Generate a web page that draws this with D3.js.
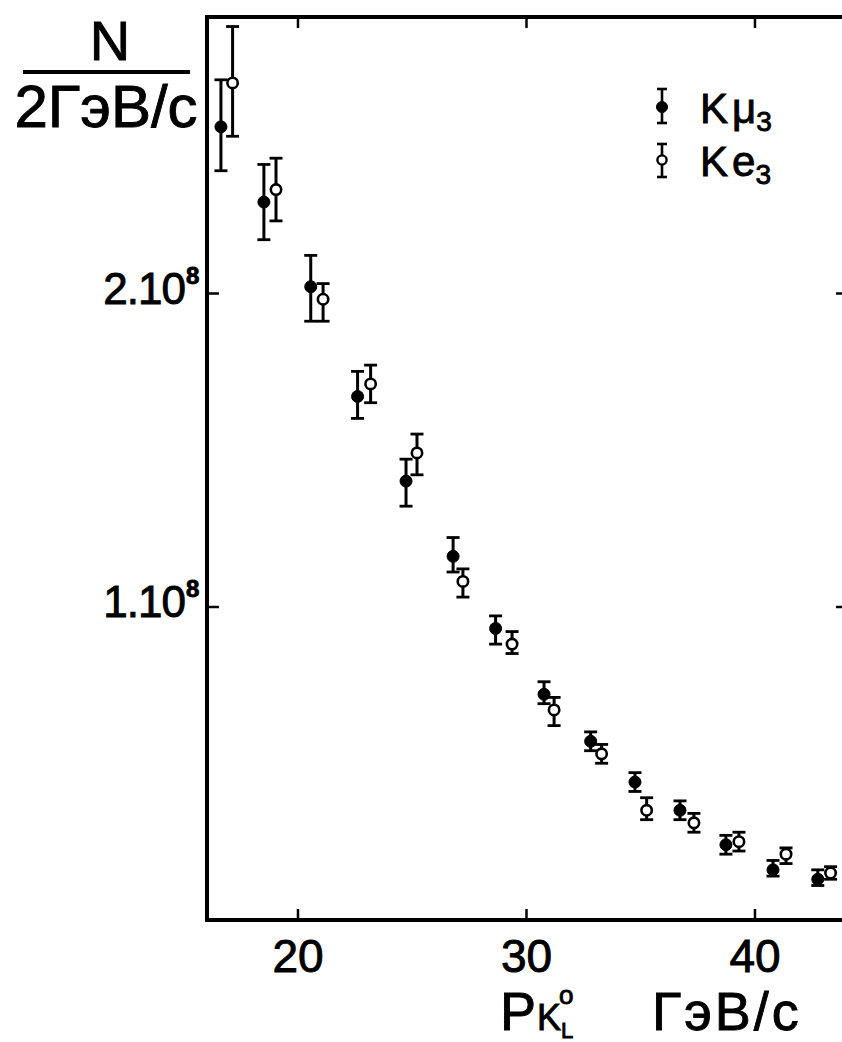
<!DOCTYPE html>
<html>
<head>
<meta charset="utf-8">
<script src="https://cdn.jsdelivr.net/npm/d3@7"></script>
<style>
  body { margin: 0; background: #fff; }
  svg { display: block; }
  text { font-family: "Liberation Sans", Arial, sans-serif; fill: #000; stroke: #000; stroke-width: 0.9px; }
</style>
</head>
<body>
<script>
// K-mu-3 (filled points): momentum (GeV/c), N per 2 GeV/c in units of 1e8, error bar ends
var kmuP  = [16.65, 18.53, 20.58, 22.63, 24.75, 26.81, 28.67, 30.79, 32.83, 34.77, 36.74, 38.75, 40.81, 42.77];
var kmuN  = [2.53, 2.29, 2.02, 1.67, 1.40, 1.16, 0.93, 0.72, 0.57, 0.44, 0.35, 0.24, 0.16, 0.13];
var kmuHi = [2.68, 2.41, 2.12, 1.75, 1.47, 1.22, 0.97, 0.76, 0.60, 0.47, 0.38, 0.27, 0.19, 0.16];
var kmuLo = [2.39, 2.17, 1.91, 1.60, 1.32, 1.11, 0.88, 0.69, 0.54, 0.41, 0.32, 0.21, 0.14, 0.11];

// K-e-3 (open points)
var keP  = [17.16, 19.06, 21.12, 23.20, 25.23, 27.24, 29.39, 31.23, 33.31, 35.28, 37.35, 39.32, 41.38, 43.33];
var keN  = [2.67, 2.33, 1.98, 1.71, 1.49, 1.08, 0.88, 0.67, 0.53, 0.35, 0.31, 0.25, 0.21, 0.15];
var keHi = [2.85, 2.43, 2.03, 1.77, 1.55, 1.12, 0.92, 0.71, 0.56, 0.39, 0.34, 0.28, 0.23, 0.17];
var keLo = [2.50, 2.23, 1.91, 1.65, 1.42, 1.03, 0.85, 0.62, 0.50, 0.32, 0.28, 0.22, 0.18, 0.13];

var xTicks = [20, 30, 40];
var yTicks = [1, 2];
var yTickLabels = ["1.10", "2.10"];

var w = 842, h = 1042;
var mLeft = 207, mRight = 848, mTop = 17, mBottom = 920;

var svg = d3.select("body").append("svg")
    .attr("width", w)
    .attr("height", h);

var x = d3.scaleLinear()
    .domain([16.04, 16.04 + (mRight - mLeft) / 22.85])
    .range([mLeft, mRight]);

var y = d3.scaleLinear()
    .domain([0, (mBottom - mTop) / 313.5])
    .range([mBottom, mTop]);

// frame
svg.append("rect")
    .attr("x", mLeft).attr("y", mTop)
    .attr("width", mRight - mLeft).attr("height", mBottom - mTop)
    .attr("fill", "none")
    .attr("stroke", "#000")
    .attr("stroke-width", 4);

// bottom axis, ticks pointing inward
var gx = svg.append("g")
    .attr("transform", "translate(0," + mBottom + ")")
    .call(d3.axisBottom(x).tickValues(xTicks).tickSize(-11).tickPadding(19));
gx.select(".domain").remove();
gx.selectAll("line").attr("stroke-width", 2.5);
gx.selectAll("text")
    .attr("font-size", 46)
    .style("font-family", "Liberation Sans, Arial, sans-serif");

// top ticks
var gt = svg.append("g")
    .attr("transform", "translate(0," + mTop + ")")
    .call(d3.axisTop(x).tickValues(xTicks).tickSize(-11).tickFormat(""));
gt.select(".domain").remove();
gt.selectAll("line").attr("stroke-width", 2.5);

// left axis
var gy = svg.append("g")
    .attr("transform", "translate(" + mLeft + ",0)")
    .call(d3.axisLeft(y).tickValues(yTicks).tickSize(-12).tickFormat(""));
gy.select(".domain").remove();
gy.selectAll("line").attr("stroke-width", 2.5);
gy.selectAll(".tick").each(function (d, i) {
    var t = d3.select(this);
    t.append("text")
        .attr("x", -22)
        .attr("y", 10)
        .attr("text-anchor", "end")
        .attr("font-size", 44)
        .attr("letter-spacing", -1)
        .text(yTickLabels[i]);
    t.append("text")
        .attr("x", -21)
        .attr("y", -10)
        .attr("text-anchor", "start")
        .attr("font-size", 24)
        .attr("font-weight", "bold")
        .text("8");
});

// right ticks
var gr = svg.append("g")
    .attr("transform", "translate(" + mRight + ",0)")
    .call(d3.axisRight(y).tickValues(yTicks).tickSize(-12).tickFormat(""));
gr.select(".domain").remove();
gr.selectAll("line").attr("stroke-width", 2.5);

// error bars + markers
function drawSeries(P, N, Lo, Hi, filled, r) {
    var data = P.map(function (p, i) { return {p: p, n: N[i], lo: Lo[i], hi: Hi[i]}; });
    var g = svg.append("g");
    var capW = 6.5;
    g.selectAll(".bar").data(data).enter().append("line")
        .attr("x1", function (d) { return x(d.p); })
        .attr("x2", function (d) { return x(d.p); })
        .attr("y1", function (d) { return y(d.lo); })
        .attr("y2", function (d) { return y(d.hi); })
        .attr("stroke", "#000").attr("stroke-width", 3);
    g.selectAll(".capHi").data(data).enter().append("line")
        .attr("x1", function (d) { return x(d.p) - capW; })
        .attr("x2", function (d) { return x(d.p) + capW; })
        .attr("y1", function (d) { return y(d.hi); })
        .attr("y2", function (d) { return y(d.hi); })
        .attr("stroke", "#000").attr("stroke-width", 2.8);
    g.selectAll(".capLo").data(data).enter().append("line")
        .attr("x1", function (d) { return x(d.p) - capW; })
        .attr("x2", function (d) { return x(d.p) + capW; })
        .attr("y1", function (d) { return y(d.lo); })
        .attr("y2", function (d) { return y(d.lo); })
        .attr("stroke", "#000").attr("stroke-width", 2.8);
    g.selectAll("circle").data(data).enter().append("circle")
        .attr("cx", function (d) { return x(d.p); })
        .attr("cy", function (d) { return y(d.n); })
        .attr("r", r)
        .attr("fill", filled ? "#000" : "#fff")
        .attr("stroke", "#000")
        .attr("stroke-width", filled ? 1 : 2.6);
}
drawSeries(kmuP, kmuN, kmuLo, kmuHi, true, 6);
drawSeries(keP, keN, keLo, keHi, false, 5.2);

// legend
var legend = [
    {y: 107, top: 89, bot: 123, filled: true, name: "Kμ"},
    {y: 160, top: 144, bot: 177, filled: false, name: "Ke"}
];
var lg = svg.append("g");
legend.forEach(function (d) {
    lg.append("line").attr("x1", 662).attr("x2", 662).attr("y1", d.top).attr("y2", d.bot)
        .attr("stroke", "#000").attr("stroke-width", 2.6);
    [d.top, d.bot].forEach(function (yy) {
        lg.append("line").attr("x1", 657).attr("x2", 667).attr("y1", yy).attr("y2", yy)
            .attr("stroke", "#000").attr("stroke-width", 2.6);
    });
    lg.append("circle").attr("cx", 662).attr("cy", d.y).attr("r", d.filled ? 5.5 : 4.6)
        .attr("fill", d.filled ? "#000" : "#fff").attr("stroke", "#000")
        .attr("stroke-width", d.filled ? 1 : 2.4);
    var t = lg.append("text").attr("x", 700).attr("y", d.y + 16).attr("font-size", 42);
    t.append("tspan").text(d.name.charAt(0)).attr("letter-spacing", 4);
    t.append("tspan").text(d.name.slice(1));
    t.append("tspan").text("3").attr("font-size", 28).attr("dy", 8);
});

// y-axis title: N / 2 ГэВ/с
svg.append("text").attr("x", 110).attr("y", 60).attr("text-anchor", "middle")
    .attr("font-size", 56).text("N");
svg.append("line").attr("x1", 23).attr("x2", 190).attr("y1", 72).attr("y2", 72)
    .attr("stroke", "#000").attr("stroke-width", 4);
svg.append("text").attr("x", 106).attr("y", 127).attr("text-anchor", "middle")
    .attr("font-size", 60).text("2ГэВ/с");

// x-axis title: P_{K^0_L}  ГэВ/с
var xt = svg.append("g");
xt.append("text").attr("x", 500).attr("y", 1030).attr("font-size", 54).text("P");
xt.append("text").attr("x", 537).attr("y", 1030).attr("font-size", 36).text("K");
xt.append("text").attr("x", 559).attr("y", 1004).attr("font-size", 26).text("o");
xt.append("text").attr("x", 561).attr("y", 1038).attr("font-size", 22).text("L");
xt.append("text").attr("x", 652).attr("y", 1030).attr("font-size", 54)
    .attr("letter-spacing", 3).text("ГэВ/с");
</script>
</body>
</html>
